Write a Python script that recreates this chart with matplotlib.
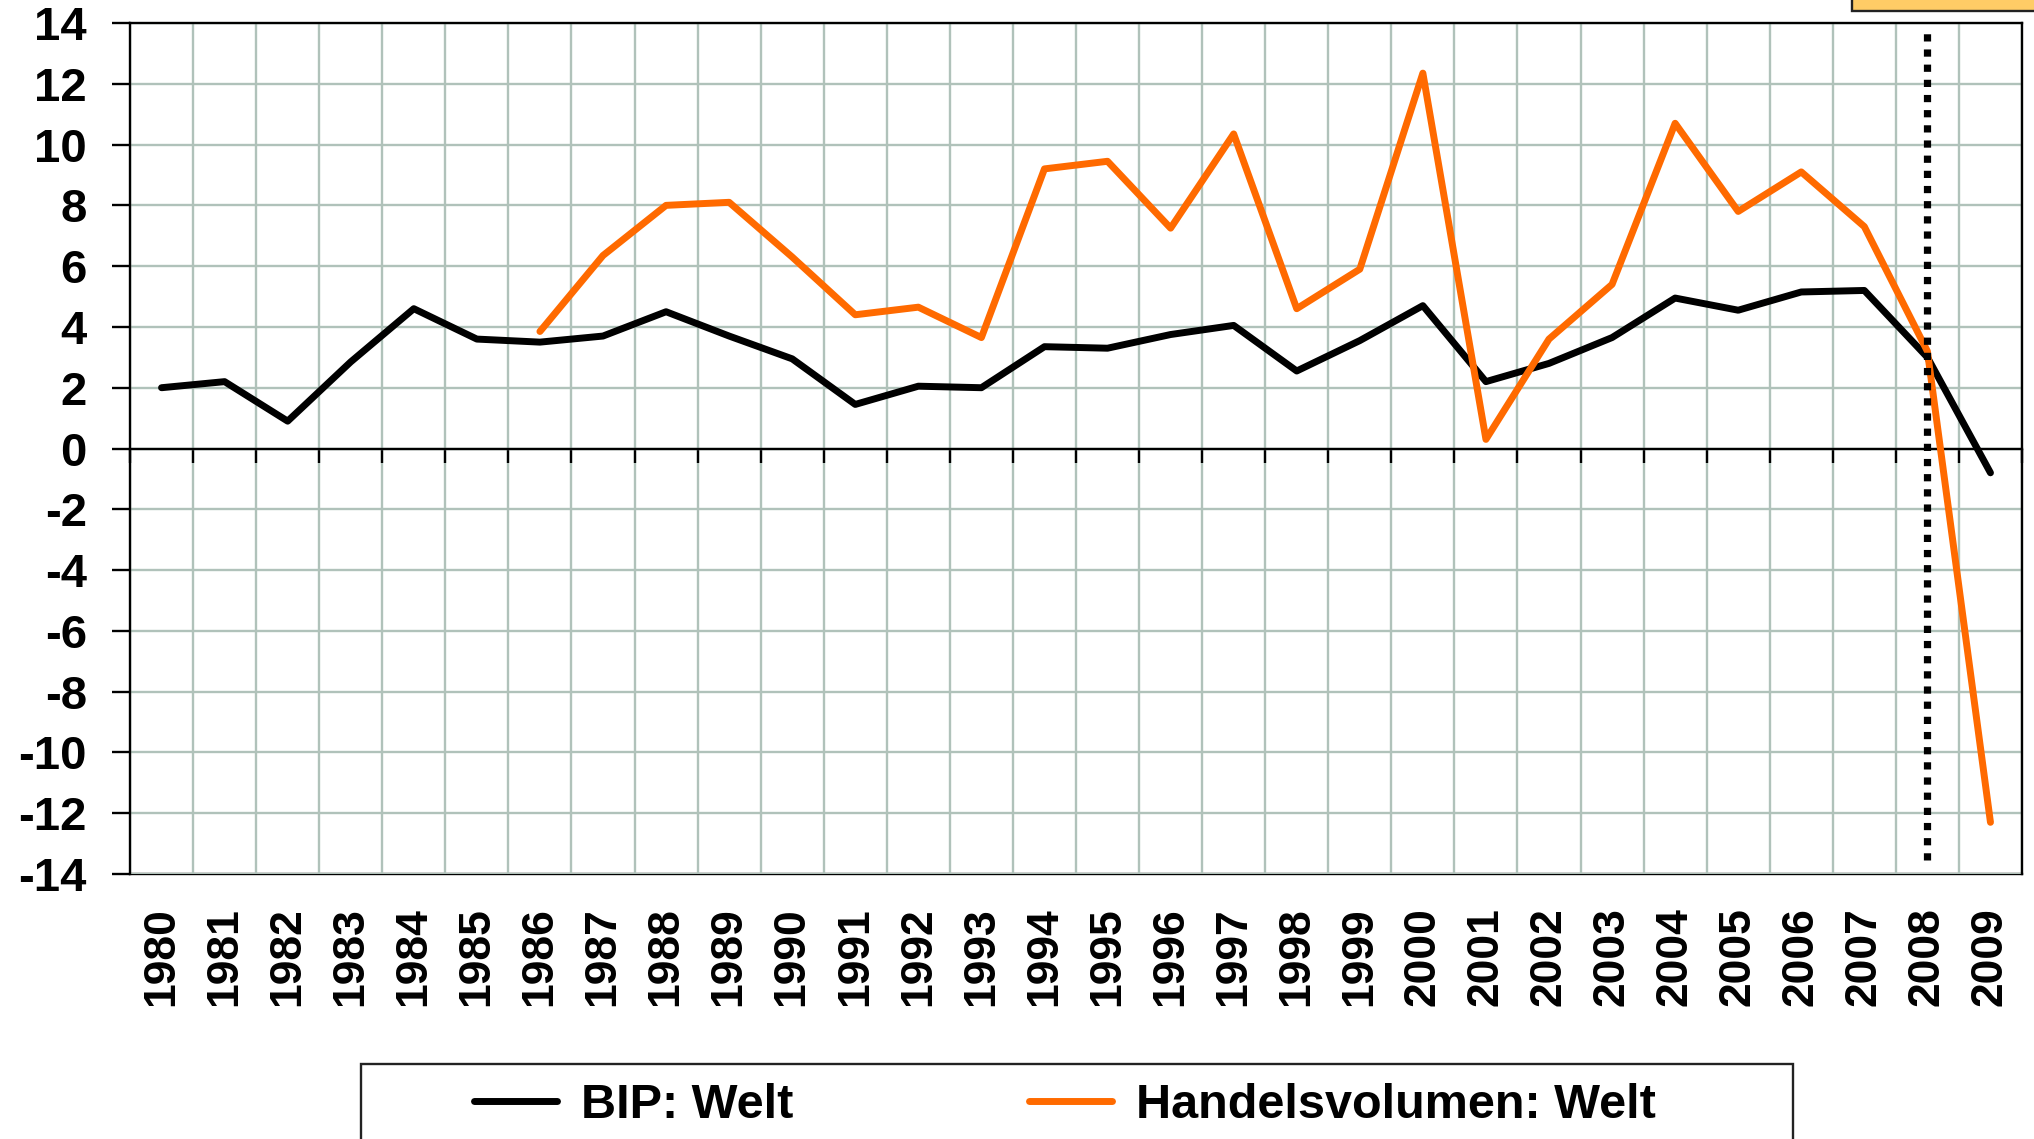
import numpy as np
import matplotlib
matplotlib.use('Agg')
import matplotlib.pyplot as plt
from matplotlib.patches import Rectangle
from matplotlib.lines import Line2D

plt.rcParams['font.family'] = ['Liberation Sans', 'DejaVu Sans']
plt.rcParams['font.weight'] = 'bold'
plt.rcParams['axes.unicode_minus'] = False

# Wachstum in %, Welt
years = list(range(1980, 2010))
bip_welt = [2.0, 2.2, 0.9, 2.85, 4.6, 3.6, 3.5, 3.7, 4.5, 3.7,
            2.95, 1.45, 2.05, 2.0, 3.35, 3.3, 3.75, 4.05, 2.55, 3.55,
            4.7, 2.2, 2.8, 3.65, 4.95, 4.55, 5.15, 5.2, 3.0, -0.8]
handel_welt = [None, None, None, None, None, None,
               3.85, 6.35, 8.0, 8.1, 6.3, 4.4, 4.65, 3.65, 9.2, 9.45,
               7.25, 10.35, 4.6, 5.9, 12.35, 0.3, 3.6, 5.4, 10.7, 7.8,
               9.1, 7.3, 3.2, -12.3]
y_ticks = list(range(-14, 15, 2))
marker_year = 2008

W, H = 2034, 1139
fig = plt.figure(figsize=(W / 100, H / 100), dpi=100)
ax = fig.add_axes([130 / W, 1 - 874 / H, (2022 - 130) / W, (874 - 23) / H])

x = np.arange(len(years))
bip = np.array(bip_welt, dtype=float)
handel = np.array(handel_welt, dtype=float)

grid_col = '#B0C2BA'
ax.set_xlim(-0.5, len(years) - 0.5)
ax.set_ylim(-14, 14)
ax.set_yticks(y_ticks)
ax.set_xticks(x)
ax.set_xticklabels([])
ax.set_xticks(np.arange(len(years) + 1) - 0.5, minor=True)
ax.grid(which='minor', axis='x', color=grid_col, lw=1.7)
ax.grid(which='major', axis='y', color=grid_col, lw=1.7)
ax.set_axisbelow(True)

for s in ['left', 'right', 'top', 'bottom']:
    ax.spines[s].set_linewidth(1.7)
ax.spines['bottom'].set_position(('data', 0))
ax.tick_params(axis='x', which='major', length=0)
ax.tick_params(axis='x', which='minor', length=10, width=1.7, direction='out')
ax.tick_params(axis='y', length=13, width=1.7, pad=18, labelsize=34)

# Jahresbeschriftung am unteren Rand
sec = ax.secondary_xaxis('bottom')
sec.set_xticks(x, labels=[str(y) for y in years])
sec.tick_params(length=0, pad=24, labelsize=32, labelrotation=90)
sec.spines['bottom'].set_linewidth(1.7)

ax.plot(x, bip, color='black', lw=5, solid_capstyle='round',
        solid_joinstyle='round', zorder=3)
ax.plot(x, handel, color='#FF6A00', lw=5, solid_capstyle='round',
        solid_joinstyle='round', zorder=3)

ax.vlines(years.index(marker_year), -13.55, 13.85, color='black', lw=5.2,
          linestyles=(0, (1, 1.1)), zorder=4)

# Legende
handles = [Line2D([], [], color='black', lw=5, solid_capstyle='round'),
           Line2D([], [], color='#FF6A00', lw=5, solid_capstyle='round')]
fig.legend(handles, ['BIP: Welt', 'Handelsvolumen: Welt'], ncol=2,
           loc='center left', bbox_to_anchor=(474 / W, 1 - 1106 / H),
           frameon=False, fontsize=35, handlelength=1.7, handletextpad=0.5,
           columnspacing=4.85, borderpad=0, borderaxespad=0)
fig.patches.append(Rectangle((361 / W, -0.05), (1793 - 361) / W, 0.05 + (1139 - 1064) / H,
                             transform=fig.transFigure, fill=False,
                             edgecolor='#222222', lw=1.7))

# angeschnittenes Textfeld oben rechts
fig.patches.append(Rectangle((1852 / W, 1 - 11 / H), 0.2, 0.05,
                             transform=fig.transFigure, facecolor='#FFCC66',
                             edgecolor='#222222', lw=1.7))

fig.savefig('out.png', dpi=100)
